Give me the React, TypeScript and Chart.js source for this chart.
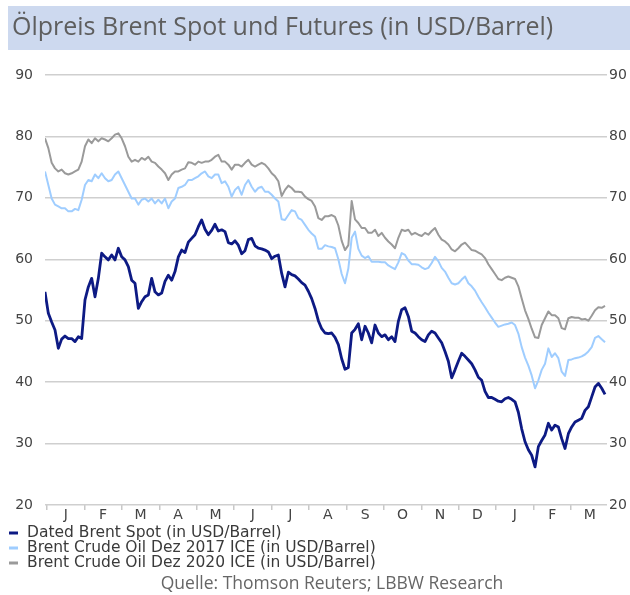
import React, { useEffect, useRef } from "react";
import { Chart, registerables } from "chart.js";

Chart.register(...registerables);

const titleText = "Ölpreis Brent Spot und Futures (in USD/Barrel)";
const sourceText = "Quelle: Thomson Reuters; LBBW Research";
const monthLabels = ["J", "F", "M", "A", "M", "J", "J", "A", "S", "O", "N", "D", "J", "F", "M"];
const yTicks = [20, 30, 40, 50, 60, 70, 80, 90];
const seriesNames = [
  "Dated Brent Spot (in USD/Barrel)",
  "Brent Crude Oil Dez 2017 ICE (in USD/Barrel)",
  "Brent Crude Oil Dez 2020 ICE (in USD/Barrel)",
];
const seriesColors = ["#0d1a84", "#9fcdff", "#9a9a9a"];

// sampling: first sample (in months from Jan), step between samples (months)
const xStart = -0.053;
const xStep = 0.08905;

const spot = [
  54.7, 51.2, 49.8, 48.5, 45.5, 47.0, 47.5, 47.1, 47.1, 46.6, 47.4, 47.1, 53.4, 55.5, 56.9, 53.9, 56.9, 61.0, 60.4, 59.9,
  60.7, 59.9, 61.8, 60.4, 59.9, 58.8, 56.6, 56.1, 52.0, 53.1, 53.9, 54.2, 56.9, 54.7, 54.2, 54.5, 56.4, 57.4, 56.6, 58.0,
  60.4, 61.5, 61.1, 62.8, 63.4, 64.0, 65.3, 66.4, 64.9, 64.0, 64.7, 65.7, 64.6, 64.8, 64.5, 62.7, 62.5, 63.0, 62.3, 60.9,
  61.4, 63.2, 63.4, 62.2, 61.8, 61.7, 61.5, 61.2, 60.1, 60.5, 60.7, 57.7, 55.5, 57.9, 57.5, 57.3, 56.8, 56.2, 55.8, 54.8,
  53.6, 52.0, 50.0, 48.7, 48.0, 47.9, 48.0, 47.3, 46.1, 43.8, 42.1, 42.4, 48.0, 48.6, 49.5, 46.9, 49.1, 48.0, 46.4, 49.3,
  48.0, 47.4, 47.7, 46.9, 47.4, 46.6, 49.9, 51.8, 52.1, 50.7, 48.3, 48.0, 47.4, 46.9, 46.6, 47.7, 48.3, 48.0, 47.2, 46.4,
  45.0, 43.4, 40.7, 42.0, 43.4, 44.7, 44.2, 43.6, 43.0, 42.0, 40.8, 40.3, 38.5, 37.5, 37.5, 37.2, 36.9, 36.8, 37.3, 37.5,
  37.2, 36.8, 35.1, 32.4, 30.3, 29.0, 28.1, 26.2, 29.5, 30.5, 31.4, 33.3, 32.2, 33.0, 32.7, 30.8, 29.2, 31.6, 32.7, 33.5,
  33.8, 34.1, 35.4, 36.0, 37.6, 39.2, 39.8, 39.0, 38.0,
];

const dec2017 = [
  74.3, 72.1, 69.9, 68.9, 68.6, 68.3, 68.3, 67.8, 67.8, 68.2, 68.0, 69.7, 72.1, 72.9, 72.7, 73.8, 73.2, 74.0, 73.2, 72.7,
  72.9, 73.8, 74.3, 73.2, 72.1, 71.0, 69.9, 69.9, 68.9, 69.7, 69.9, 69.4, 69.9, 69.1, 69.7, 69.1, 69.9, 68.3, 69.4, 69.9,
  71.6, 71.8, 72.1, 72.9, 72.9, 73.2, 73.5, 74.0, 74.3, 73.5, 73.2, 73.8, 73.8, 72.4, 72.7, 71.8, 70.2, 71.3, 71.8, 70.5,
  72.1, 72.9, 71.8, 71.0, 71.6, 71.8, 71.0, 71.0, 70.5, 69.9, 69.4, 66.5, 66.4, 67.2, 68.0, 67.8, 66.7, 66.4, 65.6, 64.8,
  64.2, 63.7, 61.7, 61.7, 62.3, 62.1, 62.0, 61.8, 60.0, 57.6, 56.1, 58.5, 63.5, 64.5, 61.7, 60.6, 60.2, 60.5, 59.6, 59.6,
  59.6, 59.5, 59.5, 59.0, 58.7, 58.4, 59.5, 61.0, 60.7, 59.8, 59.2, 59.2, 59.1, 58.7, 58.4, 58.6, 59.4, 60.4, 59.7, 58.6,
  58.0, 57.0, 56.1, 55.9, 56.1, 56.7, 57.2, 56.1, 55.6, 54.9, 53.9, 53.0, 52.2, 51.3, 50.5, 49.7, 49.0, 49.2, 49.4, 49.5,
  49.7, 49.3, 47.9, 45.7, 44.0, 42.7, 41.1, 39.0, 40.3, 42.0, 43.0, 45.5, 44.1, 44.7, 43.9, 41.7, 41.0, 43.6, 43.7, 43.9,
  44.0, 44.2, 44.5, 45.0, 45.7, 47.2, 47.5, 47.0, 46.5,
];

const dec2020 = [
  79.7, 78.1, 75.7, 74.8, 74.3, 74.6, 74.0, 73.8, 74.0, 74.3, 74.6, 75.9, 78.4, 79.5, 78.9, 79.7, 79.2, 79.7, 79.5, 79.2,
  79.7, 80.3, 80.5, 79.7, 78.4, 76.7, 75.9, 76.2, 75.9, 76.5, 76.2, 76.7, 75.9, 75.7, 75.1, 74.6, 74.0, 72.9, 73.8, 74.3,
  74.3, 74.6, 74.8, 75.8, 75.7, 75.4, 75.9, 75.7, 75.9, 75.9, 76.2, 76.7, 77.0, 75.9, 75.9, 75.4, 74.6, 75.4, 75.4, 75.1,
  75.7, 76.2, 75.4, 75.1, 75.4, 75.7, 75.4, 74.8, 74.0, 73.5, 72.7, 70.3, 71.3, 72.0, 71.6, 71.0, 71.0, 70.9, 70.2, 69.8,
  69.5, 68.6, 66.7, 66.4, 67.0, 67.0, 67.2, 66.9, 65.5, 63.0, 61.5, 62.3, 69.5, 66.5, 65.9, 65.1, 65.1, 64.3, 64.3, 64.8,
  63.8, 64.3, 63.5, 62.9, 62.4, 61.8, 63.5, 64.8, 64.6, 64.8, 64.0, 64.3, 64.0, 63.8, 64.3, 64.0, 64.6, 65.1, 64.0, 63.2,
  62.9, 62.4, 61.6, 61.3, 61.8, 62.4, 62.7, 62.1, 61.5, 61.4, 61.1, 60.8, 60.2, 59.2, 58.4, 57.6, 56.8, 56.6, 57.0, 57.2,
  57.0, 56.8, 55.6, 53.6, 51.7, 50.3, 48.7, 47.3, 47.2, 49.3, 50.4, 51.5, 50.9, 50.9, 50.4, 48.8, 48.6, 50.4, 50.6, 50.5,
  50.5, 50.2, 50.3, 50.0, 50.8, 51.7, 52.2, 52.1, 52.4,
];

const toPoints = (vals: number[]) => vals.map((v, i) => ({ x: xStart + i * xStep, y: v }));

const decorPlugin = {
  id: "decor",
  beforeDraw(chart: any) {
    const ctx = chart.ctx;
    ctx.save();
    ctx.fillStyle = "#ffffff";
    ctx.fillRect(0, 0, chart.width, chart.height);
    ctx.fillStyle = "#cdd9ef";
    ctx.fillRect(8, 6, chart.width - 8, 44);
    ctx.fillStyle = "#5e5e5e";
    ctx.font = "25px 'Open Sans'";
    ctx.textBaseline = "middle";
    ctx.textAlign = "left";
    ctx.fillText(titleText, 12, 28);
    ctx.restore();
  },
  afterDraw(chart: any) {
    const ctx = chart.ctx;
    ctx.save();
    chart.data.datasets.forEach((ds: any, i: number) => {
      const y = 533 + i * 15;
      ctx.strokeStyle = ds.borderColor;
      ctx.lineWidth = 3;
      ctx.beginPath();
      ctx.moveTo(9, y);
      ctx.lineTo(18, y);
      ctx.stroke();
      ctx.fillStyle = "#3a3a3a";
      ctx.font = "15.5px 'DejaVu Sans'";
      ctx.textBaseline = "middle";
      ctx.textAlign = "left";
      ctx.fillText(ds.label, 27, y);
    });
    ctx.fillStyle = "#666666";
    ctx.font = "17.5px 'Open Sans'";
    ctx.textAlign = "center";
    ctx.textBaseline = "middle";
    ctx.fillText(sourceText, 332, 584);
    ctx.restore();
  },
};

export default function App() {
  const ref = useRef<HTMLCanvasElement | null>(null);
  useEffect(() => {
    document.body.style.margin = "0";
    if (!ref.current) return;
    const tickFont = { family: "'DejaVu Sans'", size: 14 };
    const chart = new Chart(ref.current, {
      type: "line",
      data: {
        datasets: [
          { label: seriesNames[0], data: toPoints(spot), borderColor: seriesColors[0], borderWidth: 2.8 },
          { label: seriesNames[1], data: toPoints(dec2017), borderColor: seriesColors[1], borderWidth: 2 },
          { label: seriesNames[2], data: toPoints(dec2020), borderColor: seriesColors[2], borderWidth: 2 },
        ].map((d) => ({ ...d, pointRadius: 0, tension: 0, fill: false, borderJoinStyle: "round" as const })),
      },
      options: {
        animation: false,
        responsive: false,
        devicePixelRatio: 1,
        layout: { padding: { top: 75, left: 0, right: 0, bottom: 0 } },
        plugins: { legend: { display: false }, title: { display: false }, tooltip: { enabled: false } },
        scales: {
          x: {
            type: "linear",
            min: xStart,
            max: 14.96,
            afterFit: (s: any) => {
              s.height = 90;
            },
            afterBuildTicks: (s: any) => {
              const t: any[] = [];
              for (let k = 0; k < monthLabels.length; k++) {
                t.push({ value: k });
                t.push({ value: k + 0.5 });
              }
              s.ticks = t;
            },
            ticks: {
              autoSkip: false,
              maxRotation: 0,
              padding: -3,
              color: "#444",
              font: tickFont,
              callback: (v: any) => (Number.isInteger(v) ? "" : monthLabels[Math.floor(v)]),
            },
            grid: {
              drawOnChartArea: false,
              drawTicks: true,
              tickLength: 5,
              lineWidth: 1.5,
              color: (c: any) => (c.tick && Number.isInteger(c.tick.value) ? "#c8c8c8" : "rgba(0,0,0,0)"),
            },
            border: { display: false },
          },
          y: {
            position: "left",
            min: 20,
            max: 90,
            afterFit: (s: any) => {
              s.width = 45;
            },
            afterBuildTicks: (s: any) => {
              s.ticks = yTicks.map((v) => ({ value: v }));
            },
            ticks: { padding: 12, color: "#444", font: tickFont },
            grid: { drawTicks: false, color: "#cfcfcf", lineWidth: 1.5 },
            border: { display: false },
          },
          y2: {
            position: "right",
            min: 20,
            max: 90,
            afterFit: (s: any) => {
              s.width = 23;
            },
            afterBuildTicks: (s: any) => {
              s.ticks = yTicks.map((v) => ({ value: v }));
            },
            ticks: { padding: 2, color: "#444", font: tickFont },
            grid: { drawOnChartArea: false, drawTicks: false },
            border: { display: false },
          },
        },
      },
      plugins: [decorPlugin],
    });
    return () => chart.destroy();
  }, []);
  return (
    <div style={{ width: 630, height: 595 }}>
      <canvas ref={ref} width={630} height={595} style={{ display: "block" }} />
    </div>
  );
}
